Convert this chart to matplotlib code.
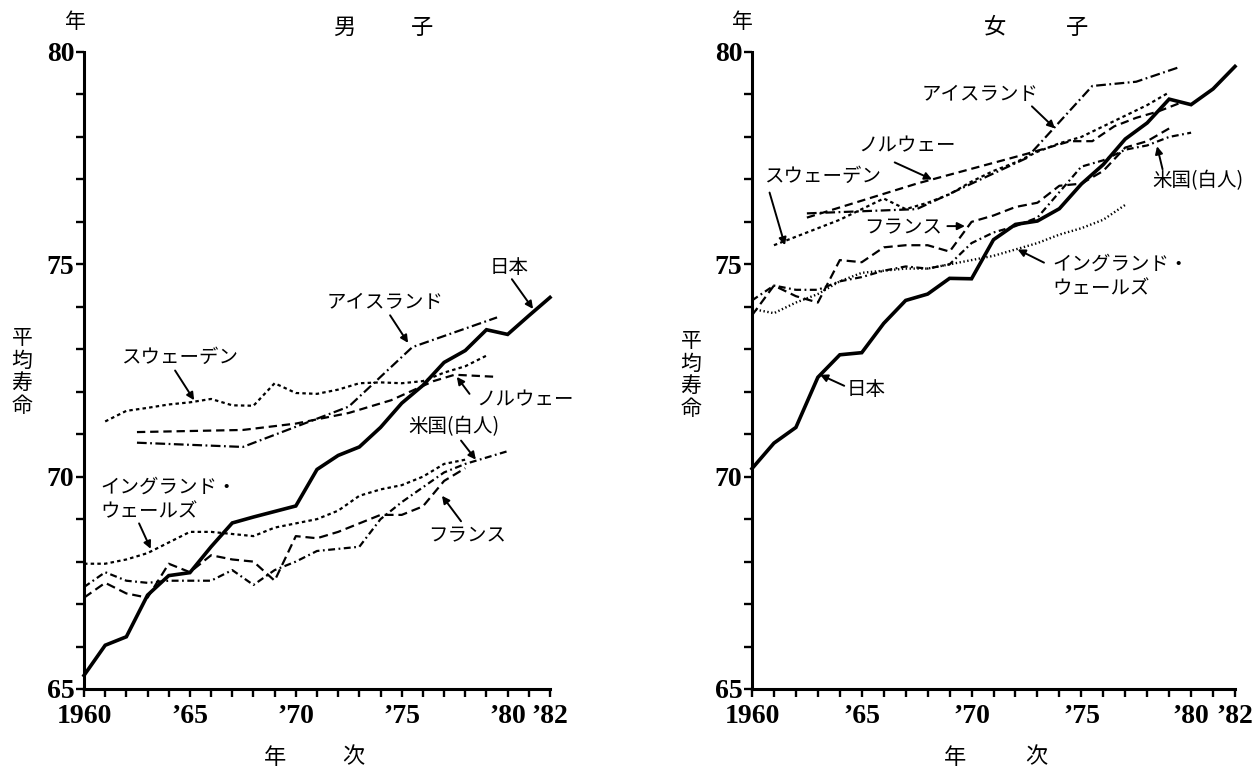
import matplotlib
matplotlib.use("Agg")
import matplotlib.pyplot as plt
from matplotlib.ticker import MultipleLocator

plt.rcParams['lines.scale_dashes'] = False

JP = ['Noto Sans CJK JP', 'DejaVu Sans']
NUM = ['Liberation Serif', 'DejaVu Serif']

# ---- data: male (男子) ----
years_m = list(range(1960, 1983))
japan_m = [65.32, 66.03, 66.23, 67.21, 67.67, 67.74, 68.35, 68.91, 69.05, 69.18, 69.31,
           70.17, 70.50, 70.70, 71.16, 71.73, 72.15, 72.69, 72.97, 73.46, 73.35, 73.79, 74.22]
iceland_m_x = [1962.5, 1967.5, 1972.5, 1975.5, 1977.5, 1979.5]
iceland_m = [70.8, 70.7, 71.65, 73.05, 73.4, 73.75]
norway_m_x = [1962.5, 1967.5, 1970, 1972.5, 1974.5, 1976.5, 1977.5, 1979.5]
norway_m = [71.05, 71.1, 71.25, 71.5, 71.8, 72.25, 72.4, 72.35]
sweden_m_x = list(range(1961, 1980))
sweden_m = [71.3, 71.55, 71.62, 71.7, 71.75, 71.83, 71.68, 71.67, 72.2, 71.97,
            71.95, 72.05, 72.2, 72.22, 72.2, 72.25, 72.45, 72.6, 72.85]
usa_m_x = list(range(1960, 1981))
usa_m = [67.4, 67.75, 67.55, 67.5, 67.55, 67.55, 67.55, 67.8, 67.45, 67.8, 68.0,
         68.25, 68.3, 68.35, 69.0, 69.4, 69.75, 70.1, 70.3, 70.45, 70.6]
france_m_x = list(range(1960, 1979))
france_m = [67.15, 67.5, 67.25, 67.15, 67.95, 67.75, 68.15, 68.05, 68.0, 67.55,
            68.6, 68.55, 68.7, 68.9, 69.1, 69.1, 69.3, 69.9, 70.2]
england_m_x = list(range(1960, 1979))
england_m = [67.95, 67.95, 68.05, 68.2, 68.45, 68.7, 68.7, 68.65, 68.6, 68.8,
             68.9, 69.0, 69.2, 69.55, 69.7, 69.8, 70.0, 70.3, 70.4]

# ---- data: female (女子) ----
years_f = list(range(1960, 1983))
japan_f = [70.19, 70.79, 71.16, 72.34, 72.87, 72.92, 73.61, 74.15, 74.30, 74.67, 74.66,
           75.58, 75.94, 76.02, 76.31, 76.89, 77.35, 77.95, 78.33, 78.89, 78.76, 79.13, 79.66]
iceland_f_x = [1962.5, 1967.5, 1972.5, 1975.5, 1977.5, 1979.5]
iceland_f = [76.2, 76.3, 77.5, 79.2, 79.3, 79.65]
norway_f_x = [1962.5, 1967.5, 1972.5, 1974.5, 1975.5, 1976.5, 1977.5, 1978.5, 1979.5]
norway_f = [76.1, 76.9, 77.6, 77.9, 77.9, 78.25, 78.45, 78.6, 78.8]
sweden_f_x = list(range(1961, 1980))
sweden_f = [75.45, 75.65, 75.85, 76.05, 76.3, 76.55, 76.3, 76.45, 76.65, 76.95,
            77.2, 77.4, 77.65, 77.85, 78.0, 78.25, 78.5, 78.75, 79.05]
usa_f_x = list(range(1960, 1981))
usa_f = [74.15, 74.5, 74.4, 74.4, 74.6, 74.7, 74.85, 74.95, 74.9, 75.0, 75.5,
         75.75, 75.9, 76.1, 76.7, 77.3, 77.45, 77.7, 77.8, 78.0, 78.1]
france_f_x = list(range(1960, 1980))
france_f = [73.8, 74.5, 74.25, 74.1, 75.1, 75.05, 75.4, 75.45, 75.45, 75.3,
            76.0, 76.15, 76.35, 76.45, 76.85, 76.9, 77.2, 77.75, 77.9, 78.2]
england_f_x = list(range(1960, 1978))
england_f = [73.95, 73.85, 74.1, 74.3, 74.6, 74.8, 74.85, 74.9, 74.9, 75.0,
             75.1, 75.2, 75.35, 75.5, 75.7, 75.85, 76.05, 76.4]

xtick_pos = [1960, 1965, 1970, 1975, 1980, 1982]
xtick_labels = ['1960', '\u201965', '\u201970', '\u201975', '\u201980', '\u201982']
ytick_pos = [65, 70, 75, 80]

# line styles
sty_japan = dict(color='black', lw=2.6, solid_joinstyle='miter')
sty_iceland = dict(color='black', lw=1.6, dashes=(7, 2.5, 1.3, 2.5))
sty_norway = dict(color='black', lw=1.6, dashes=(6, 3.5))
sty_sweden = dict(color='black', lw=1.6, dashes=(2.5, 2.3))
sty_usa = dict(color='black', lw=1.6, dashes=(5, 2.5, 1.3, 2.5))
sty_france = dict(color='black', lw=1.6, dashes=(6.5, 3.5))
sty_england_m = dict(color='black', lw=1.6, dashes=(2.5, 2.3))
sty_england_f = dict(color='black', lw=1.7, dashes=(1, 1.8))

W, H = 1257, 771
fig = plt.figure(figsize=(W / 100, H / 100), dpi=100)
fig.patch.set_facecolor('white')

ax_m = fig.add_axes([84 / W, (H - 689) / H, 466 / W, 637 / H])
ax_f = fig.add_axes([752 / W, (H - 689) / H, 483 / W, 637 / H])


def style_axes(ax):
    ax.set_xlim(1960, 1982)
    ax.set_ylim(65, 80)
    for s in ['top', 'right']:
        ax.spines[s].set_visible(False)
    for s in ['left', 'bottom']:
        ax.spines[s].set_linewidth(2.2)
    ax.set_xticks(xtick_pos)
    ax.set_xticklabels(xtick_labels)
    ax.set_yticks(ytick_pos)
    ax.xaxis.set_minor_locator(MultipleLocator(1))
    ax.yaxis.set_minor_locator(MultipleLocator(1))
    ax.tick_params(which='both', direction='out', length=6, width=1.7)
    ax.tick_params(axis='both', which='major', labelsize=20)
    ax.tick_params(axis='x', which='major', pad=5)
    ax.tick_params(axis='y', which='major', pad=1)
    for lab in ax.get_xticklabels() + ax.get_yticklabels():
        lab.set_family(NUM)
        lab.set_fontweight('bold')


def label(ax, text, xy, tip, start, ha='center', fs=14):
    ax.text(xy[0], xy[1], text, ha=ha, va='center', fontsize=fs,
            family=JP, linespacing=1.25, clip_on=False)
    ax.annotate('', xy=tip, xytext=start,
                arrowprops=dict(arrowstyle='-|>', color='black', lw=1.4,
                                mutation_scale=11, shrinkA=0, shrinkB=0))


# ---- male panel ----
ax = ax_m
style_axes(ax)
ax.plot(iceland_m_x, iceland_m, **sty_iceland)
ax.plot(norway_m_x, norway_m, **sty_norway)
ax.plot(sweden_m_x, sweden_m, **sty_sweden)
ax.plot(usa_m_x, usa_m, **sty_usa)
ax.plot(france_m_x, france_m, **sty_france)
ax.plot(england_m_x, england_m, **sty_england_m)
ax.plot(years_m, japan_m, clip_on=False, **sty_japan)

label(ax, '日本', (1980.05, 74.92), (1981.2, 73.95), (1980.2, 74.65))
label(ax, 'アイスランド', (1974.2, 74.1), (1975.3, 73.15), (1974.45, 73.8))
label(ax, 'スウェーデン', (1964.5, 72.8), (1965.2, 71.8), (1964.3, 72.5))
label(ax, 'ノルウェー', (1978.5, 71.8), (1977.6, 72.35), (1978.2, 71.95), ha='left')
label(ax, '米国(白人)', (1977.45, 71.18), (1978.5, 70.4), (1977.8, 70.85))
label(ax, 'イングランド・\nウェールズ', (1960.75, 69.46), (1963.15, 68.3), (1962.6, 68.9), ha='left')
label(ax, 'フランス', (1978.1, 68.6), (1976.9, 69.55), (1977.8, 68.95))

# ---- female panel ----
ax = ax_f
style_axes(ax)
ax.plot(iceland_f_x, iceland_f, **sty_iceland)
ax.plot(norway_f_x, norway_f, **sty_norway)
ax.plot(sweden_f_x, sweden_f, **sty_sweden)
ax.plot(usa_f_x, usa_f, **sty_usa)
ax.plot(france_f_x, france_f, **sty_france)
ax.plot(england_f_x, england_f, **sty_england_f)
ax.plot(years_f, japan_f, clip_on=False, **sty_japan)

label(ax, 'アイスランド', (1970.4, 79.0), (1973.8, 78.2), (1972.75, 78.72))
label(ax, 'ノルウェー', (1967.05, 77.78), (1968.2, 77.0), (1966.5, 77.4))
label(ax, 'スウェーデン', (1963.2, 77.08), (1961.5, 75.45), (1960.8, 76.69))
label(ax, 'フランス', (1966.9, 75.86), (1969.7, 75.9), (1968.9, 75.9))
label(ax, '米国(白人)', (1980.3, 76.96), (1978.45, 77.78), (1978.7, 77.24))
label(ax, 'イングランド・\nウェールズ', (1973.7, 74.72), (1972.1, 75.35), (1973.3, 75.04), ha='left')
label(ax, '日本', (1965.2, 72.06), (1963.1, 72.4), (1964.2, 72.14))


# ---- headings and axis titles ----
def ftext(x, y, s, fs=15):
    fig.text(x / W, 1 - y / H, s, ha='center', va='center', fontsize=fs,
             family=JP, linespacing=1.05)


ftext(75, 22, '年')
ftext(344, 27, '男', 16)
ftext(422, 27, '子', 16)
ftext(742, 22, '年')
ftext(995, 27, '女', 16)
ftext(1077, 27, '子', 16)
ftext(275, 757, '年', 16)
ftext(353, 757, '次', 16)
ftext(955, 757, '年', 16)
ftext(1036, 757, '次', 16)
ftext(22, 372, '平\n均\n寿\n命', fs=15)
ftext(691, 375, '平\n均\n寿\n命', fs=15)

fig.savefig('out.png', dpi=100, facecolor='white')
